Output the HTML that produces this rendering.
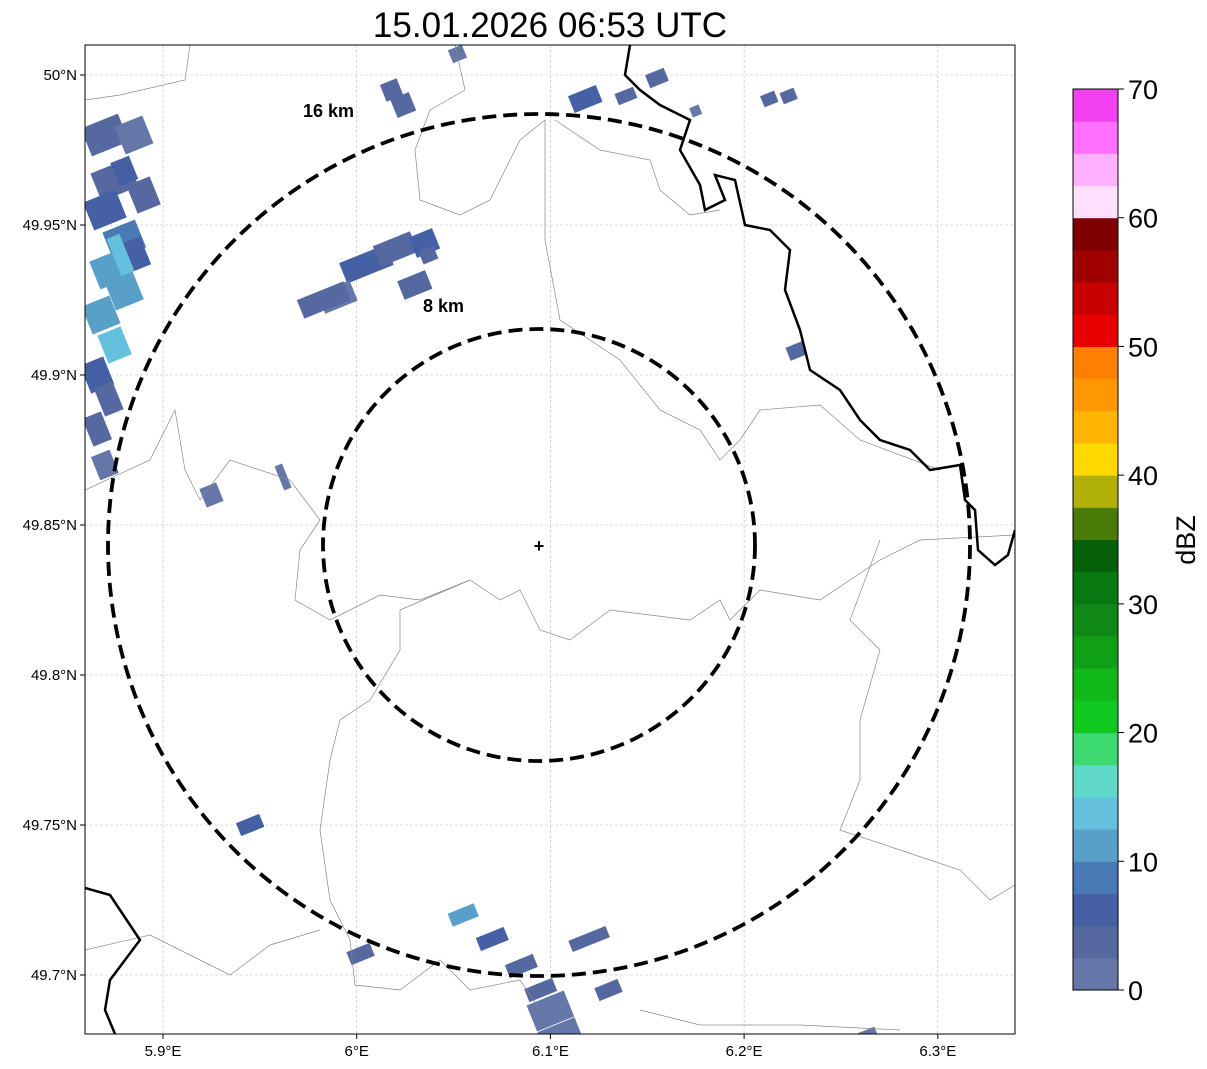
<!DOCTYPE html>
<html><head><meta charset="utf-8"><style>
body{margin:0;background:#fff;font-family:"Liberation Sans",sans-serif}
svg{display:block}
</style></head><body>
<svg id="c" width="1207" height="1069" xmlns="http://www.w3.org/2000/svg">
<text x="550" y="37" font-size="35" text-anchor="middle">15.01.2026 06:53 UTC</text>
<g id="map"></g>
<g id="cb"></g>
</svg>
<script>
const lonTicks=[5.9,6.0,6.1,6.2,6.3];
const lonLabels=["5.9°E","6°E","6.1°E","6.2°E","6.3°E"];
const latTicks=[50.0,49.95,49.9,49.85,49.8,49.75,49.7];
const latLabels=["50°N","49.95°N","49.9°N","49.85°N","49.8°N","49.75°N","49.7°N"];
const cbTicks=[0,10,20,30,40,50,60,70];
const cbColors=["#6577a8","#5668a0","#4560a5","#4a7ab5","#58a0c8","#64c0dc","#60d8c8","#3cd870","#10c820","#10b818","#10a018","#108818","#087810","#066008","#4a7a08","#b0b008","#ffd800","#ffb400","#ff9800","#ff8000","#e80000","#c80000","#a00000","#800000","#ffe0ff","#ffb0ff","#ff70ff","#f040f0"];
// radar cells: lon, lat, dBZ, width(px), height(px)
const cellLon=[5.87,5.885,5.875,5.89,5.87,5.88,5.885,5.872,5.88,5.868,5.875,5.866,5.872,5.866,5.87,5.88,6.005,6.02,6.035,6.03,5.99,6.037,5.925,5.962,5.983,6.018,6.055,6.07,6.085,6.095,6.1,6.105,6.12,5.945,6.002,6.13,6.155,6.118,6.024,6.052,6.139,6.175,6.223,6.227,6.262,6.213,5.878];
const cellLat=[49.98,49.98,49.965,49.96,49.955,49.945,49.94,49.935,49.928,49.92,49.91,49.9,49.892,49.882,49.87,49.968,49.937,49.942,49.944,49.93,49.926,49.94,49.86,49.866,49.925,49.995,49.72,49.712,49.703,49.695,49.688,49.68,49.712,49.75,49.707,49.695,49.999,49.992,49.99,50.007,49.993,49.988,49.993,49.908,49.68,49.992,49.94];
const cellVal=[3,2,4,3,6,9,7,12,10,11,13,5,4,3,2,7,5,3,6,4,2,3,2,2,3,3,10,7,4,3,1,2,4,5,3,4,4,5,3,2,3,2,3,4,2,3,13];
const cellW=[40,30,40,25,35,35,25,30,30,30,25,25,20,20,20,20,50,40,25,30,35,16,18,8,50,18,28,30,30,30,40,40,40,25,25,25,20,30,20,15,20,10,15,18,25,15,14];
const cellH=[30,30,30,30,30,30,30,30,30,30,30,30,30,30,25,25,22,22,22,20,22,14,20,26,20,18,14,14,14,14,28,22,12,14,14,14,14,18,20,14,12,10,12,14,8,12,40];
const svg=document.getElementById('c'),map=document.getElementById('map'),cb=document.getElementById('cb');
const NS="http://www.w3.org/2000/svg";
const L=85,T=45,R=1015,B=1034;
const xs=lon=>163+(lon-5.9)*1937;
const ys=lat=>75+(50.0-lat)*3000;
function mk(tag,attrs,parent){const e=document.createElementNS(NS,tag);for(const k in attrs)e.setAttribute(k,attrs[k]);(parent||map).appendChild(e);return e;}
const cv=v=>cbColors[Math.max(0,Math.min(27,Math.floor(v/2.5)))];
mk('defs',{}).innerHTML='<clipPath id="clip"><rect x="85" y="45" width="930" height="989"/></clipPath>';
const g=mk('g',{'clip-path':'url(#clip)'});
lonTicks.forEach(v=>{const l=mk('line',{x1:xs(v),x2:xs(v),y1:T,y2:B,stroke:'#bbb','stroke-width':0.6,'stroke-dasharray':'3,2'},g);});
latTicks.forEach(v=>{const l=mk('line',{x1:L,x2:R,y1:ys(v),y2:ys(v),stroke:'#bbb','stroke-width':0.6,'stroke-dasharray':'3,2'},g);});
cellLon.forEach((lo,i)=>{const x=xs(lo),y=ys(cellLat[i]);const r=mk('rect',{x:x-cellW[i]/2,y:y-cellH[i]/2,width:cellW[i],height:cellH[i],fill:cv(cellVal[i]),transform:`rotate(-22 ${x} ${y})`},g);});
const thin=["M190,45 L185,80 L120,95 L85,100","M455,45 L465,90 L430,110 L415,150 L420,200 L460,215 L490,200 L520,140 L545,120 L545,240 L560,320 L620,360 L660,410 L700,430 L720,460 L740,440 L760,410 L820,405 L860,440 L940,470","M555,120 L600,150 L650,160 L660,190 L690,215 L720,210","M85,490 L150,460 L175,410 L185,470 L200,500 L230,460 L290,480 L320,520 L300,550 L295,600 L330,620 L380,595 L420,600 L470,580 L500,600 L520,590 L540,630 L570,640 L610,610 L690,620 L720,600 L730,620 L760,590 L820,600 L880,560 L920,540 L1015,535","M470,580 L400,610 L400,650 L370,700 L340,720 L330,760 L320,830 L330,900 L350,940 L355,985 L400,990 L440,960 L470,990 L520,980 L540,1010","M85,950 L150,935 L200,960 L230,975 L270,945 L320,930","M880,540 L850,620 L880,650 L860,720 L860,780 L840,830 L900,850 L960,870 L990,900 L1015,885","M640,1010 L700,1025 L800,1025 L900,1030"];
thin.forEach(d=>{const p=mk('path',{d,fill:'none',stroke:'#888','stroke-width':0.7},g);});
const thick=["M630,45 L625,75 L640,90 L660,105 L690,120 L680,150 L700,185 L705,210 L725,200 L715,175 L735,180 L745,225 L770,230 L790,250 L785,290 L800,330 L810,370 L840,390 L860,420 L880,440 L910,450 L930,470 L960,465 L965,500 L975,510 L978,550 L995,565 L1008,555 L1015,530","M85,888 L110,895 L140,940 L110,980 L105,1010 L115,1034"];
thick.forEach(d=>{const p=mk('path',{d,fill:'none',stroke:'#000','stroke-width':2.5},g);});
[[431,'outer-range-ring'],[216,'inner-range-ring']].forEach(([r,n])=>{const c=mk('circle',{cx:539,cy:545,r,fill:'none',stroke:'#000','stroke-width':3.8,'stroke-dasharray':'14,7'},g);});
let t=mk('text',{x:303,y:117,'font-size':18,'font-weight':'bold'});t.textContent='16 km';
t=mk('text',{x:423,y:312,'font-size':18,'font-weight':'bold'});t.textContent='8 km';
t=mk('text',{x:539,y:552,'font-size':18,'font-weight':'bold','text-anchor':'middle'});t.textContent='+';
const fr=mk('rect',{x:L,y:T,width:R-L,height:B-T,fill:'none',stroke:'#000','stroke-width':1});
lonTicks.forEach((v,i)=>{mk('line',{x1:xs(v),x2:xs(v),y1:B,y2:B+5,stroke:'#000'});const tt=mk('text',{x:xs(v),y:B+22,'font-size':15,'text-anchor':'middle'});tt.textContent=lonLabels[i];});
latTicks.forEach((v,i)=>{mk('line',{x1:L-5,x2:L,y1:ys(v),y2:ys(v),stroke:'#000'});const tt=mk('text',{x:L-8,y:ys(v)+5,'font-size':15,'text-anchor':'end'});tt.textContent=latLabels[i];});
const cy=v=>990-v*(901/70);
cbColors.forEach((c,i)=>{const r=mk('rect',{x:1073,y:cy((i+1)*2.5),width:45,height:cy(i*2.5)-cy((i+1)*2.5)+0.5,fill:c},cb);});
mk('rect',{x:1073,y:89,width:45,height:901,fill:'none',stroke:'#000'},cb);
cbTicks.forEach(v=>{mk('line',{x1:1118,x2:1124,y1:cy(v),y2:cy(v),stroke:'#000'},cb);const tt=mk('text',{x:1128,y:cy(v)+10,'font-size':27},cb);tt.textContent=v;});
t=mk('text',{x:1195,y:540,'font-size':27,'text-anchor':'middle',transform:'rotate(-90 1195 540)'},cb);t.textContent='dBZ';
</script>
</body></html>
